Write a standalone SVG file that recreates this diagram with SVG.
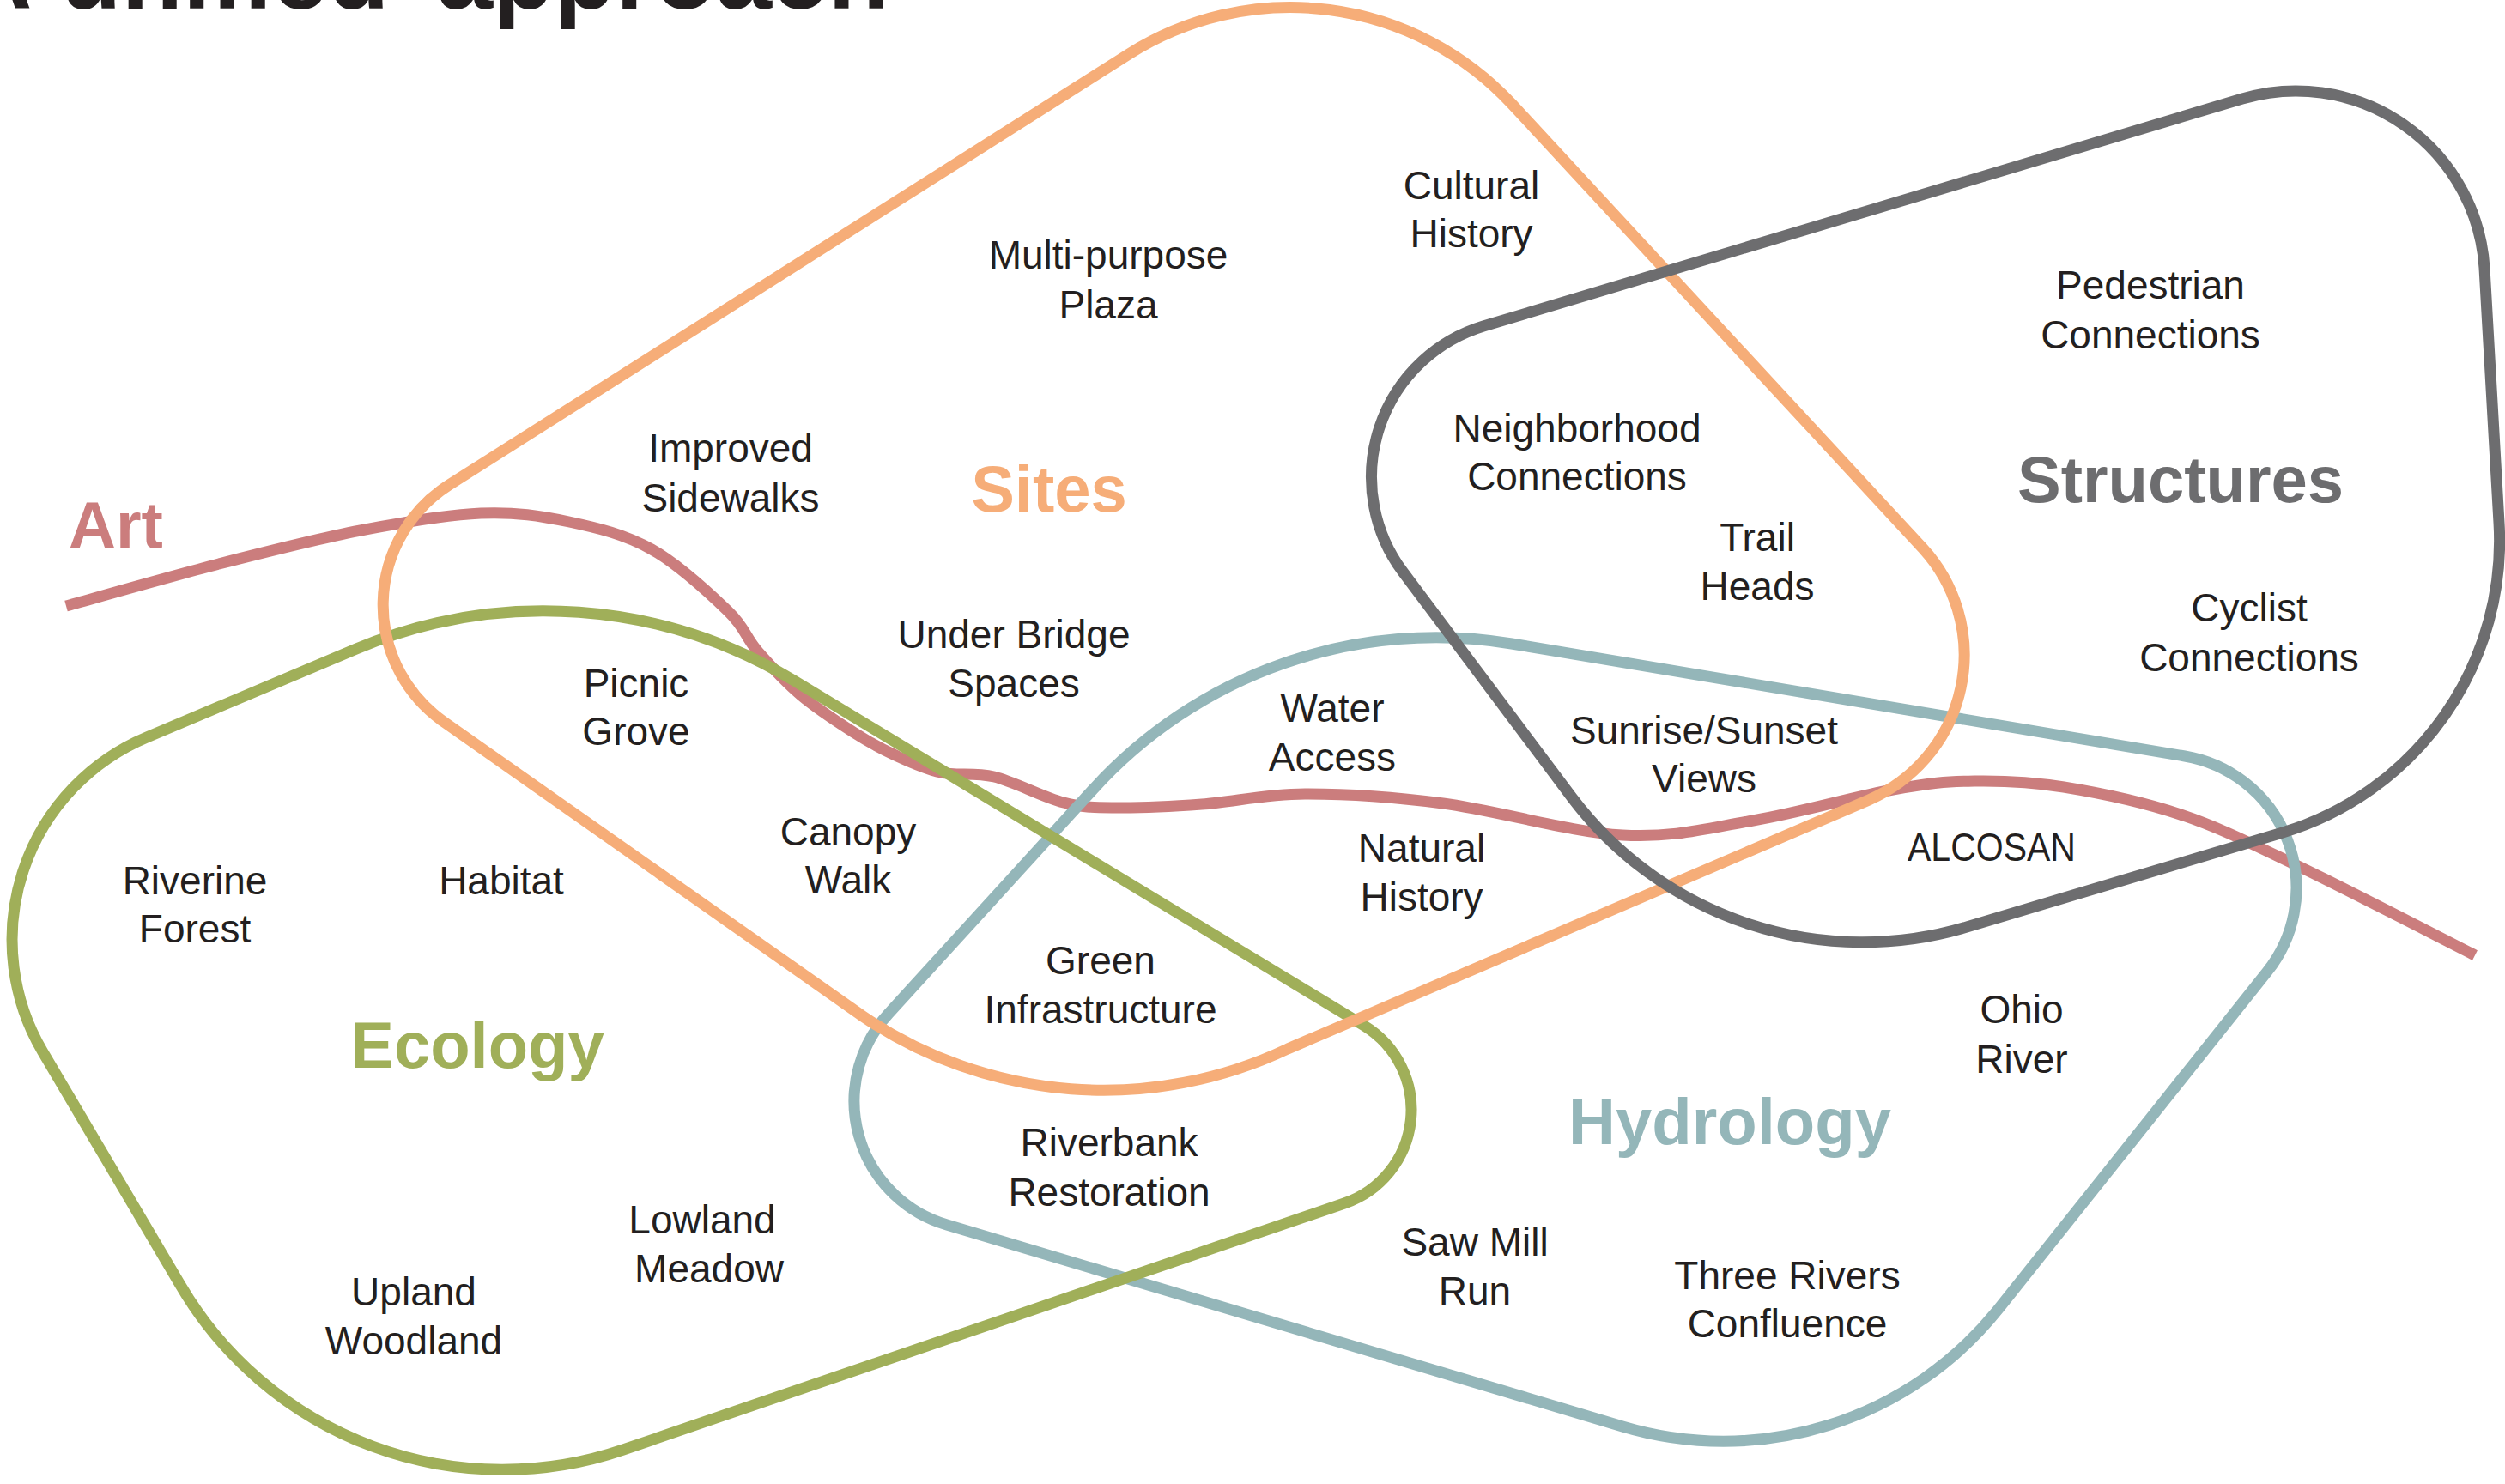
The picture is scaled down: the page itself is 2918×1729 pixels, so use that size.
<svg xmlns="http://www.w3.org/2000/svg" width="2918" height="1729" viewBox="0 0 2918 1729">
<style>
.line{fill:none;stroke-width:13;stroke-linejoin:round}
.art{stroke:#CB7D7D}
.hyd{stroke:#94B6B9}
.eco{stroke:#A0AF59}
.sit{stroke:#F6AD78}
.str{stroke:#6D6D6F}
.cat{font-family:"Liberation Sans",Arial,sans-serif;font-weight:bold;font-size:76px;text-anchor:middle}
.lbl{font-family:"Liberation Sans",Arial,sans-serif;font-size:46px;fill:#231F20;text-anchor:middle}
.title{font-family:"Liberation Sans",Arial,sans-serif;font-weight:bold;font-size:117px;fill:#231F20}
</style>
<rect width="2918" height="1729" fill="#FFFFFF"/>
<text class="title" y="10"><tspan x="-47">A </tspan><tspan x="70">unified </tspan><tspan x="509">approach</tspan></text>

<g id="connectors">
<path id="art-line" class="line art" stroke-linecap="butt" d="M77,706 C106.7,697.8 197.8,671.7 255,657 C312.2,642.3 369.2,627.8 420,618 C470.8,608.2 519.5,599.7 560,598 C600.5,596.3 629.8,601 663,608 C696.2,615 728.2,622.7 759,640 C789.8,657.3 827.5,692.3 848,712 C868.5,731.7 867.8,741.7 882,758 C896.2,774.3 914.3,794.2 933,810 C951.7,825.8 975.7,841.3 994,853 C1012.3,864.7 1026,872.2 1043,880 C1060,887.8 1076.8,895.8 1096,900 C1115.2,904.2 1134.2,899.2 1158,905 C1181.8,910.8 1215.3,929 1239,935 C1262.7,941 1273.2,940.7 1300,941 C1326.8,941.3 1363.3,939.7 1400,937 C1436.7,934.3 1473.2,925.2 1520,925 C1566.8,924.8 1619.3,928 1681,936 C1742.7,944 1829.8,969.7 1890,973 C1950.2,976.3 1989.5,964.8 2042,956 C2094.5,947.2 2162,927.7 2205,920 C2248,912.3 2266.8,910.5 2300,910 C2333.2,909.5 2364,910.5 2404,917 C2444,923.5 2494.8,933.8 2540,949 C2585.2,964.2 2617.8,980.7 2675,1008 C2732.2,1035.3 2848.3,1095.5 2883,1113"/>
</g>

<g id="hydrology">
<path class="line hyd" d="M1761,750 L2545,881 A156,156 0 0 1 2641,1132 L2328,1525 A410,410 0 0 1 1890,1662 L1103,1427 A150,150 0 0 1 1035,1181 L1273,920 A540,540 0 0 1 1761,750 Z"/>
<text class="cat" fill="#94B6B9" x="2015" y="1333">Hydrology</text>
</g>

<g id="ecology">
<path class="line eco" d="M171,859 L415,756 A563,563 0 0 1 925,793 L1589,1195 A115,115 0 0 1 1566,1402 L726,1689 A435,435 0 0 1 210,1497 L49.5,1225 A256,256 0 0 1 171,859 Z"/>
<text class="cat" fill="#A0AF59" x="556" y="1244">Ecology</text>
</g>

<g id="sites">
<path class="line sit" d="M1315,63 A352,352 0 0 1 1761,121 L2240,639 A184,184 0 0 1 2177,932 L1500,1222 A500,500 0 0 1 1005,1184 L517,841 A166,166 0 0 1 523,565 Z"/>
<text class="cat" fill="#F6AD78" x="1222" y="596">Sites</text>
</g>

<g id="structures">
<path class="line str" d="M1728,380 L2612,115 A220,220 0 0 1 2894,312 L2911,609 A355,355 0 0 1 2659,970 L2291,1080 A424,424 0 0 1 1831,929 L1634,666 A184,184 0 0 1 1728,380 Z"/>
<text class="cat" fill="#6D6D6F" x="2540" y="585">Structures</text>
</g>

<g id="art">
<text class="cat" fill="#CB7D7D" x="135" y="638">Art</text>
</g>

<g id="labels">
<g id="multi-purpose-plaza"><text class="lbl" x="1291" y="313">Multi-purpose</text><text class="lbl" x="1291" y="371">Plaza</text></g>
<g id="cultural-history"><text class="lbl" x="1714" y="232">Cultural</text><text class="lbl" x="1714" y="288">History</text></g>
<g id="improved-sidewalks"><text class="lbl" x="851" y="538">Improved</text><text class="lbl" x="851" y="596">Sidewalks</text></g>
<g id="neighborhood-connections"><text class="lbl" x="1837" y="515">Neighborhood</text><text class="lbl" x="1837" y="571">Connections</text></g>
<g id="trail-heads"><text class="lbl" x="2047" y="642">Trail</text><text class="lbl" x="2047" y="699">Heads</text></g>
<g id="pedestrian-connections"><text class="lbl" x="2505" y="348">Pedestrian</text><text class="lbl" x="2505" y="406">Connections</text></g>
<g id="cyclist-connections"><text class="lbl" x="2620" y="724">Cyclist</text><text class="lbl" x="2620" y="782">Connections</text></g>
<g id="picnic-grove"><text class="lbl" x="741" y="812">Picnic</text><text class="lbl" x="741" y="868">Grove</text></g>
<g id="under-bridge-spaces"><text class="lbl" x="1181" y="755">Under Bridge</text><text class="lbl" x="1181" y="812">Spaces</text></g>
<g id="water-access"><text class="lbl" x="1552" y="841">Water</text><text class="lbl" x="1552" y="898">Access</text></g>
<g id="sunrise-sunset-views"><text class="lbl" x="1985" y="867">Sunrise/Sunset</text><text class="lbl" x="1985" y="923">Views</text></g>
<g id="canopy-walk"><text class="lbl" x="988" y="985">Canopy</text><text class="lbl" x="988" y="1041">Walk</text></g>
<g id="riverine-forest"><text class="lbl" x="227" y="1042">Riverine</text><text class="lbl" x="227" y="1098">Forest</text></g>
<g id="habitat"><text class="lbl" x="584" y="1042">Habitat</text></g>
<g id="natural-history"><text class="lbl" x="1656" y="1004">Natural</text><text class="lbl" x="1656" y="1061">History</text></g>
<g id="alcosan"><text class="lbl" x="2320" y="1003" textLength="196" lengthAdjust="spacingAndGlyphs">ALCOSAN</text></g>
<g id="green-infrastructure"><text class="lbl" x="1282" y="1135">Green</text><text class="lbl" x="1282" y="1192">Infrastructure</text></g>
<g id="riverbank-restoration"><text class="lbl" x="1292" y="1347">Riverbank</text><text class="lbl" x="1292" y="1405">Restoration</text></g>
<g id="lowland-meadow"><text class="lbl" x="818" y="1437">Lowland</text><text class="lbl" x="826" y="1494">Meadow</text></g>
<g id="upland-woodland"><text class="lbl" x="482" y="1521">Upland</text><text class="lbl" x="482" y="1578">Woodland</text></g>
<g id="ohio-river"><text class="lbl" x="2355" y="1192">Ohio</text><text class="lbl" x="2355" y="1250">River</text></g>
<g id="saw-mill-run"><text class="lbl" x="1718" y="1463">Saw Mill</text><text class="lbl" x="1718" y="1520">Run</text></g>
<g id="three-rivers-confluence"><text class="lbl" x="2082" y="1502">Three Rivers</text><text class="lbl" x="2082" y="1558">Confluence</text></g>
</g>
</svg>
